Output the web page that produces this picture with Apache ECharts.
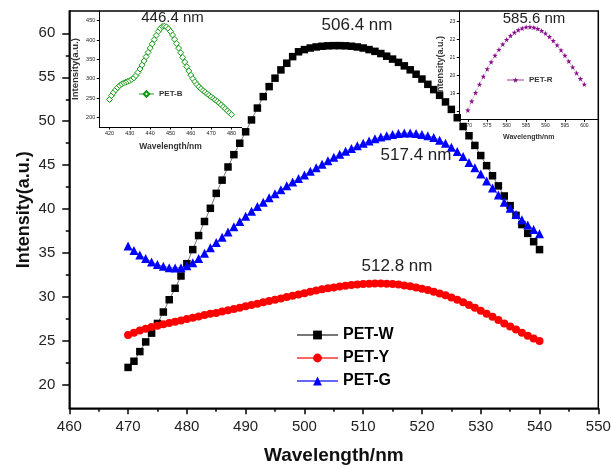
<!DOCTYPE html>
<html><head><meta charset="utf-8">
<script src="https://cdn.jsdelivr.net/npm/echarts@6/dist/echarts.min.js"></script>
<style>html,body{margin:0;padding:0;background:#fff}#c{width:611px;height:468px}</style>
</head><body><div id="c"></div>
<script>
const mainWavelength = [470,471,472,473,474,475,476,477,478,479,480,481,482,483,484,485,486,487,488,489,490,491,492,493,494,495,496,497,498,499,500,501,502,503,504,505,506,507,508,509,510,511,512,513,514,515,516,517,518,519,520,521,522,523,524,525,526,527,528,529,530,531,532,533,534,535,536,537,538,539,540];
const petW = [22.0,22.7,23.8,24.9,25.9,27.0,28.3,29.7,31.0,32.4,33.8,35.4,37.0,38.6,40.1,41.8,43.3,44.8,46.2,47.5,48.8,50.15,51.5,52.8,53.94,54.9,55.84,56.6,57.35,57.9,58.15,58.33,58.45,58.53,58.58,58.6,58.6,58.58,58.53,58.45,58.33,58.15,57.95,57.7,57.4,57.07,56.7,56.3,55.85,55.35,54.8,54.2,53.6,52.95,52.2,51.35,50.4,49.4,48.35,47.25,46.1,44.95,43.8,42.65,41.5,40.4,39.3,38.25,37.25,36.3,35.4];
const petY = [25.7,25.95,26.2,26.4,26.6,26.75,26.9,27.05,27.2,27.35,27.5,27.65,27.8,27.95,28.1,28.2,28.35,28.5,28.65,28.8,28.95,29.1,29.25,29.4,29.55,29.7,29.85,30.0,30.15,30.3,30.45,30.6,30.75,30.9,31.0,31.1,31.2,31.3,31.38,31.44,31.5,31.52,31.55,31.55,31.52,31.48,31.42,31.33,31.22,31.1,30.95,30.8,30.6,30.4,30.2,29.95,29.7,29.4,29.1,28.8,28.45,28.1,27.75,27.4,27.0,26.65,26.3,25.95,25.6,25.3,25.0];
const petG = [35.8,35.3,34.8,34.4,34.0,33.7,33.5,33.35,33.3,33.35,33.55,33.9,34.4,35.0,35.6,36.2,36.8,37.4,38.0,38.6,39.2,39.75,40.3,40.8,41.3,41.75,42.2,42.65,43.1,43.5,43.9,44.3,44.7,45.1,45.5,45.9,46.25,46.6,46.9,47.2,47.5,47.75,48.0,48.2,48.35,48.5,48.6,48.65,48.65,48.6,48.5,48.35,48.15,47.85,47.5,47.05,46.55,46.0,45.3,44.7,44.0,43.2,42.4,41.6,40.8,40.1,39.4,38.8,38.2,37.7,37.2];

const insetBWavelength = [420,421,422,423,424,425,426,427,428,429,430,431,432,433,434,435,436,437,438,439,440,441,442,443,444,445,446,447,448,449,450,451,452,453,454,455,456,457,458,459,460,461,462,463,464,465,466,467,468,469,470,471,472,473,474,475,476,477,478,479,480];
const petB = [246,256,264,271,277,282,286,289,291,293,295,298,302,308,316,325,335,346,357,368,379,390,401,412,422,430,435,436,434,429,422,413,402,391,379,367,355,343,331,320,309,300,292,285,279,274,269,265,261,257,253,249,245,241,237,232,227,222,217,212,207];

const insetRWavelength = [570,571,572,573,574,575,576,577,578,579,580,581,582,583,584,585,586,587,588,589,590,591,592,593,594,595,596,597,598,599,600];
const petR = [18.05,18.55,19.03,19.5,19.94,20.36,20.75,21.11,21.44,21.74,22.0,22.22,22.4,22.54,22.64,22.7,22.71,22.68,22.61,22.5,22.35,22.16,21.94,21.69,21.41,21.11,20.79,20.46,20.13,19.81,19.5];

const mainXTicks = [460,470,480,490,500,510,520,530,540,550];
const mainXMinor = [465,475,485,495,505,515,525,535,545];
const mainYTicks = [20,25,30,35,40,45,50,55,60];
const mainYMinor = [22.5,27.5,32.5,37.5,42.5,47.5,52.5,57.5];
const insetBXTicks = [420,430,440,450,460,470,480];
const insetBYTicks = [200,250,300,350,400,450];
const insetRXTicks = [570,575,580,585,590,595,600];
const insetRYTicks = [18,19,20,21,22,23];

const peakLabels = ['506.4 nm','517.4 nm','512.8 nm','446.4 nm','585.6 nm'];

const F = "'Liberation Sans', Arial, sans-serif";
const pairs = (xs, ys) => xs.map((x, i) => [x, ys[i]]);
const STAR = 'path://M50,0 L61,35 L98,35 L68,57 L79,91 L50,70 L21,91 L32,57 L2,35 L39,35 Z';

function axisX(grid, min, max, ticks, o) {
  return Object.assign({
    gridIndex: grid, type: 'value', min: min, max: max, position: 'bottom', nameMoveOverlap: false,
    axisLine: {show: true, onZero: false, lineStyle: {color: '#000', width: o.lw}},
    axisTick: {show: true, customValues: ticks, length: o.tl, lineStyle: {color: '#000', width: o.lw}},
    axisLabel: {show: o.labels !== false, customValues: ticks, fontSize: o.fs, color: '#222', margin: o.m, fontFamily: F},
    splitLine: {show: false}
  }, o.extra || {});
}
function axisY(grid, min, max, ticks, o) {
  return Object.assign({
    gridIndex: grid, type: 'value', min: min, max: max, position: 'left', nameMoveOverlap: false,
    axisLine: {show: true, onZero: false, lineStyle: {color: '#000', width: o.lw}},
    axisTick: {show: true, customValues: ticks, length: o.tl, lineStyle: {color: '#000', width: o.lw}},
    axisLabel: {show: o.labels !== false, customValues: ticks, fontSize: o.fs, color: '#222', margin: o.m, fontFamily: F},
    splitLine: {show: false}
  }, o.extra || {});
}

const chart = echarts.init(document.getElementById('c'), null, {renderer: 'canvas'});
const option = {
  animation: false,
  backgroundColor: '#fff',
  grid: [
    {left: 69.3, top: 11, width: 529, height: 397.3, show: true, borderColor: '#000', borderWidth: 1.5, backgroundColor: 'transparent', containLabel: false, outerBoundsMode: 'none'},
    {left: 99.3, top: 11, width: 142.4, height: 116, containLabel: false, outerBoundsMode: 'none'},
    {left: 459.3, top: 11, width: 139, height: 108.3, containLabel: false, outerBoundsMode: 'none'}
  ],
  xAxis: [
    axisX(0, 460, 550, mainXTicks, {lw: 1.5, tl: 6, fs: 15, m: 11, extra: {
      name: 'Wavelength/nm', nameLocation: 'middle', nameGap: 38,
      nameTextStyle: {fontSize: 19, fontWeight: 'bold', color: '#111', fontFamily: F}}}),
    axisX(0, 460, 550, mainXMinor, {lw: 1.5, tl: 3.5, fs: 15, m: 11, labels: false, extra: {axisLine: {show: false}}}),
    axisX(1, 415, 485, insetBXTicks, {lw: 1, tl: 2.5, fs: 5.5, m: 3.5, extra: {
      name: 'Wavelength/nm', nameLocation: 'middle', nameGap: 15,
      nameTextStyle: {fontSize: 8.5, fontWeight: 'bold', color: '#333', fontFamily: F}}}),
    axisX(2, 567.8, 603.6, insetRXTicks, {lw: 1, tl: 2.5, fs: 5, m: 4, extra: {
      name: 'Wavelength/nm', nameLocation: 'middle', nameGap: 14,
      nameTextStyle: {fontSize: 7, fontWeight: 'bold', color: '#333', fontFamily: F}}})
  ],
  yAxis: [
    axisY(0, 17.35, 62.54, mainYTicks, {lw: 1.5, tl: 7, fs: 15, m: 14, extra: {
      name: 'Intensity(a.u.)', nameLocation: 'middle', nameGap: 36, nameRotate: 90,
      nameTextStyle: {fontSize: 18, fontWeight: 'bold', color: '#111', fontFamily: F}}}),
    axisY(0, 17.35, 62.54, mainYMinor, {lw: 1.5, tl: 3.5, fs: 15, m: 14, labels: false, extra: {axisLine: {show: false}}}),
    axisY(1, 175, 475, insetBYTicks, {lw: 1, tl: 2.5, fs: 5.5, m: 4, extra: {
      name: 'Intensity(a.u.)', nameLocation: 'middle', nameGap: 19, nameRotate: 90,
      nameTextStyle: {fontSize: 9.5, fontWeight: 'bold', color: '#333', fontFamily: F}}}),
    axisY(2, 17.54, 23.6, insetRYTicks, {lw: 1, tl: 2.5, fs: 5, m: 4, extra: {
      name: 'Intensity(a.u.)', nameLocation: 'middle', nameGap: 14, nameRotate: 90,
      nameTextStyle: {fontSize: 9, fontWeight: 'bold', color: '#333', fontFamily: F}}})
  ],
  legend: [
    {data: ['PET-W', 'PET-Y', 'PET-G'], orient: 'vertical', left: 296, top: 327, padding: 0, itemWidth: 41, itemHeight: 11, itemGap: 7,
     textStyle: {fontSize: 16, fontWeight: 'bold', color: '#000', fontFamily: F}},
    {data: ['PET-B'], left: 138, top: 90, padding: 0, itemWidth: 15, itemHeight: 7, itemGap: 4,
     textStyle: {fontSize: 8, fontWeight: 'bold', color: '#333', fontFamily: F}},
    {data: ['PET-R'], left: 506, top: 76, padding: 0, itemWidth: 17, itemHeight: 7, itemGap: 4,
     textStyle: {fontSize: 8, fontWeight: 'bold', color: '#333', fontFamily: F}}
  ],
  series: [
    {name: 'PET-W', type: 'line', xAxisIndex: 0, yAxisIndex: 0, data: pairs(mainWavelength, petW),
     symbol: 'rect', symbolSize: 7.5, showAllSymbol: true, itemStyle: {color: '#000'}, lineStyle: {color: '#777', width: 1}, z: 3},
    {name: 'PET-Y', type: 'line', xAxisIndex: 0, yAxisIndex: 0, data: pairs(mainWavelength, petY),
     symbol: 'circle', symbolSize: 8, showAllSymbol: true, itemStyle: {color: '#ff0000'}, lineStyle: {color: '#ff6666', width: 1}, z: 3},
    {name: 'PET-G', type: 'line', xAxisIndex: 0, yAxisIndex: 0, data: pairs(mainWavelength, petG),
     symbol: 'triangle', symbolSize: 9, showAllSymbol: true, itemStyle: {color: '#0000ff'}, lineStyle: {color: '#6666ff', width: 1}, z: 3},
    {name: 'PET-B', type: 'line', xAxisIndex: 2, yAxisIndex: 2, data: pairs(insetBWavelength, petB),
     symbol: 'diamond', symbolSize: 6, showAllSymbol: true, itemStyle: {color: '#ffffff', borderColor: '#119911', borderWidth: 1},
     lineStyle: {color: '#99cc99', width: 0.8}, z: 3},
    {name: 'PET-R', type: 'line', xAxisIndex: 3, yAxisIndex: 3, data: pairs(insetRWavelength, petR),
     symbol: STAR, symbolSize: 5.5, showAllSymbol: true, itemStyle: {color: '#8b0a8b'},
     lineStyle: {color: '#c8a0c8', width: 0.6}, z: 3}
  ],
  graphic: [
    {type: 'text', x: 357, y: 25, z: 100, style: {text: peakLabels[0], fontSize: 17, fontFamily: F, fill: '#222', align: 'center', verticalAlign: 'middle'}},
    {type: 'text', x: 416, y: 155, z: 100, style: {text: peakLabels[1], fontSize: 17, fontFamily: F, fill: '#222', align: 'center', verticalAlign: 'middle'}},
    {type: 'text', x: 397, y: 266, z: 100, style: {text: peakLabels[2], fontSize: 17, fontFamily: F, fill: '#222', align: 'center', verticalAlign: 'middle'}},
    {type: 'text', x: 172.5, y: 18, z: 100, style: {text: peakLabels[3], fontSize: 15, fontFamily: F, fill: '#222', align: 'center', verticalAlign: 'middle'}},
    {type: 'text', x: 534, y: 19, z: 100, style: {text: peakLabels[4], fontSize: 15, fontFamily: F, fill: '#222', align: 'center', verticalAlign: 'middle'}}
  ]
};
chart.setOption(option);
</script>
</body></html>
